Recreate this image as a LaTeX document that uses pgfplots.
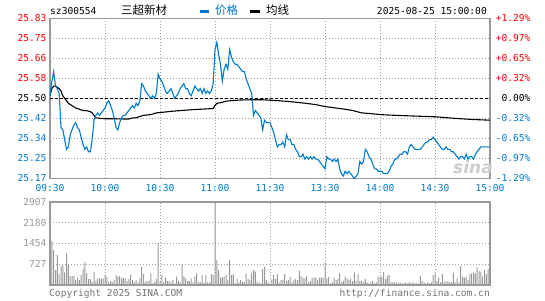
\documentclass[border=0pt]{standalone}
\usepackage{fontspec}
\setmainfont{DejaVu Sans Mono}
\newfontfamily\cjk{Noto Sans CJK SC}
\newfontfamily\logof{DejaVu Sans}
\usepackage{pgfplots}
\pgfplotsset{compat=1.18}

\definecolor{sinablue}{RGB}{0,122,204}
\definecolor{upred}{RGB}{255,0,0}
\definecolor{framec}{RGB}{153,153,153}
\definecolor{gridc}{RGB}{160,160,160}

\pgfplotsset{
  sina/.style={
    scale only axis, width=440pt, anchor=south west,
    xmin=0, xmax=240,
    axis line style={framec, line width=1.2pt},
    tick style={draw=none},
    xmajorgrids, ymajorgrids,
    grid style={gridc, line width=0.9pt, dash pattern=on 1pt off 2pt},
    xtick={0,30,...,240},
    ticklabel style={font=\fontsize{9.6}{11}\selectfont},
    /pgf/number format/assume math mode=true,
  }
}

\begin{document}
\begin{tikzpicture}
\path[use as bounding box] (0,0) rectangle (545pt,300pt);

% price panel
\begin{axis}[sina, at={(50pt,121.7pt)}, height=160pt,
  ymin=25.171, ymax=25.829,
  ytick={25.171,25.253,25.336,25.418,25.5,25.582,25.664,25.747,25.829},
  yticklabels={\textcolor{sinablue}{25.17},\textcolor{sinablue}{25.25},\textcolor{sinablue}{25.34},\textcolor{sinablue}{25.42},25.50,\textcolor{upred}{25.58},\textcolor{upred}{25.66},\textcolor{upred}{25.75},\textcolor{upred}{25.83}},
  xticklabels={09:30,10:00,10:30,11:00,11:30,13:30,14:00,14:30,15:00},
  xticklabel style={text=sinablue, yshift=-2.5pt},
]
\addplot[black, line width=0.8pt, dash pattern=on 3pt off 2pt] coordinates {(0,25.50) (240,25.50)};
% average price
\addplot[black, line width=1.1pt] coordinates {
(0,25.51)(1,25.54)(2,25.55)(3,25.55)(5,25.54)(6,25.53)(7,25.51)(8,25.50)(9,25.49)(10,25.48)
(12,25.47)(14,25.46)(16,25.455)(18,25.45)(20,25.449)(22,25.445)(23,25.44)(24,25.43)(25,25.42)
(27,25.418)(30,25.416)(35,25.416)(40,25.415)(43,25.415)(45,25.419)(47,25.42)(49,25.425)(51,25.43)
(55,25.433)(58,25.44)(62,25.443)(67,25.447)(72,25.45)(77,25.453)(82,25.455)(87,25.457)(89,25.458)
(90,25.47)(91,25.479)(93,25.482)(96,25.488)(100,25.491)(104,25.493)(110,25.494)(116,25.494)
(120,25.492)(125,25.49)(130,25.487)(135,25.483)(140,25.479)(145,25.474)(150,25.466)(155,25.461)
(160,25.456)(165,25.45)(170,25.440)(175,25.437)(180,25.433)(185,25.431)(195,25.428)(210,25.424)
(220,25.418)(230,25.413)(240,25.410)};
% price
\addplot[sinablue, line width=1.1pt] coordinates {
(0,25.51)(1,25.57)(2,25.61)(3,25.55)(4,25.54)(5,25.52)(6,25.38)(7,25.37)(8,25.33)(9,25.29)
(10,25.30)(11,25.35)(12,25.37)(13,25.39)(14,25.40)(15,25.38)(16,25.37)(17,25.34)(18,25.31)(19,25.29)
(20,25.30)(21,25.28)(22,25.28)(23,25.33)(24,25.41)(25,25.43)(26,25.44)(27,25.43)(28,25.44)(29,25.45)
(30,25.46)(31,25.48)(32,25.49)(33,25.47)(34,25.45)(35,25.42)(36,25.38)(37,25.37)(38,25.40)(39,25.42)
(40,25.43)(41,25.43)(42,25.44)(43,25.45)(44,25.46)(45,25.47)(46,25.46)(47,25.48)(48,25.47)(49,25.49)
(50,25.56)(51,25.55)(52,25.53)(53,25.52)(54,25.51)(55,25.50)(56,25.51)(57,25.50)(58,25.52)(59,25.60)
(60,25.58)(61,25.57)(62,25.55)(63,25.53)(64,25.52)(65,25.53)(66,25.54)(67,25.52)(68,25.50)(69,25.51)
(70,25.52)(71,25.54)(72,25.55)(73,25.56)(74,25.54)(75,25.54)(76,25.52)(77,25.51)(78,25.53)(79,25.55)
(80,25.54)(81,25.53)(82,25.54)(83,25.52)(84,25.54)(85,25.52)(86,25.53)(87,25.52)(88,25.53)(89,25.56)
(90,25.70)(91,25.73)(92,25.68)(93,25.64)(94,25.57)(95,25.62)(96,25.64)(97,25.62)(98,25.70)(99,25.67)
(100,25.65)(101,25.64)(102,25.64)(103,25.63)(104,25.62)(105,25.61)(106,25.61)(107,25.58)(108,25.56)(109,25.54)
(110,25.52)(111,25.43)(112,25.45)(113,25.44)(114,25.43)(115,25.42)(116,25.37)(117,25.41)(118,25.40)(119,25.40)
(120,25.40)(121,25.38)(122,25.36)(123,25.33)(124,25.30)(125,25.31)(126,25.31)(127,25.32)(128,25.30)(129,25.35)
(130,25.33)(131,25.33)(132,25.31)(133,25.31)(134,25.29)(135,25.28)(136,25.26)(137,25.26)(138,25.27)(139,25.25)
(140,25.26)(141,25.25)(142,25.26)(143,25.25)(144,25.26)(145,25.25)(146,25.25)(147,25.24)(148,25.23)(149,25.22)
(150,25.21)(151,25.26)(152,25.25)(153,25.25)(154,25.24)(155,25.25)(156,25.24)(157,25.25)(158,25.21)(159,25.19)
(160,25.18)(161,25.20)(162,25.19)(163,25.20)(164,25.19)(165,25.18)(166,25.17)(167,25.18)(168,25.19)(169,25.24)
(170,25.23)(171,25.24)(172,25.29)(173,25.28)(174,25.26)(175,25.25)(176,25.23)(177,25.21)(178,25.21)(179,25.20)
(180,25.20)(181,25.20)(182,25.19)(183,25.19)(184,25.19)(185,25.20)(186,25.22)(187,25.23)(188,25.25)(189,25.25)
(190,25.26)(191,25.27)(192,25.27)(193,25.28)(194,25.28)(195,25.27)(196,25.30)(197,25.31)(198,25.30)(199,25.29)
(200,25.29)(201,25.29)(202,25.29)(203,25.30)(204,25.31)(205,25.32)(206,25.32)(207,25.33)(208,25.33)(209,25.34)
(210,25.33)(211,25.32)(212,25.31)(213,25.30)(214,25.29)(215,25.29)(216,25.30)(217,25.29)(218,25.29)(219,25.28)
(220,25.28)(221,25.27)(222,25.26)(223,25.25)(224,25.26)(225,25.26)(226,25.25)(227,25.27)(228,25.25)(229,25.26)
(230,25.26)(231,25.25)(232,25.27)(233,25.28)(234,25.29)(235,25.30)(236,25.30)(237,25.30)(238,25.30)(239,25.30)
(240,25.30)};
\end{axis}

% right-hand percentage labels
\begin{axis}[sina, at={(50pt,121.7pt)}, height=160pt,
  ymin=25.171, ymax=25.829,
  xmajorgrids=false, ymajorgrids=false, axis line style={draw=none},
  xticklabels={}, yticklabel pos=right,
  ytick={25.171,25.253,25.336,25.418,25.5,25.582,25.664,25.747,25.829},
  yticklabels={\textcolor{sinablue}{-1.29\%},\textcolor{sinablue}{-0.97\%},\textcolor{sinablue}{-0.65\%},\textcolor{sinablue}{-0.32\%},0.00\%,\textcolor{upred}{+0.32\%},\textcolor{upred}{+0.65\%},\textcolor{upred}{+0.97\%},\textcolor{upred}{+1.29\%}},
  yticklabel style={anchor=east, xshift=44pt},
]
\addplot[draw=none] coordinates {(0,25.5)};
\end{axis}

% volume panel
\begin{axis}[sina, at={(50pt,15pt)}, height=83pt,
  ymin=0, ymax=2907,
  ytick={727,1454,2180,2907}, yticklabels={727,1454,2180,2907},
  yticklabel style={text=framec},
  xticklabels={},
]
\addplot[ybar, bar width=1pt, fill=framec, draw=none] coordinates {
(0,523)(1,1535)(2,1221)(3,523)(4,1047)(5,384)(6,674)(7,698)(8,442)(9,1105)
(10,698)(11,314)(12,314)(13,314)(14,174)(15,256)(16,174)(17,349)(18,558)(19,814)
(20,407)(21,209)(22,209)(23,116)(24,442)(25,140)(26,233)(27,233)(28,209)(29,233)
(30,349)(31,291)(32,93)(33,140)(34,93)(35,174)(36,349)(37,291)(38,314)(39,233)
(40,256)(41,233)(42,140)(43,209)(44,372)(45,174)(46,93)(47,174)(48,93)(49,233)
(50,640)(51,384)(52,93)(53,140)(54,151)(55,407)(56,58)(57,93)(58,209)(59,1454)
(60,140)(61,349)(62,93)(63,267)(64,140)(65,140)(66,93)(67,174)(68,58)(69,291)
(70,140)(71,93)(72,733)(73,314)(74,233)(75,140)(76,140)(77,233)(78,93)(79,291)
(80,407)(81,93)(82,93)(83,349)(84,93)(85,349)(86,81)(87,93)(88,384)(89,349)
(90,2907)(91,872)(92,523)(93,267)(94,256)(95,291)(96,349)(97,174)(98,872)(99,349)
(100,372)(101,58)(102,209)(103,93)(104,174)(105,116)(106,93)(107,407)(108,209)(109,174)
(110,407)(111,523)(112,465)(113,116)(114,93)(115,58)(116,558)(117,640)(118,174)(119,93)
(120,58)(121,200)(122,349)(123,209)(124,384)(125,93)(126,174)(127,174)(128,384)(129,140)
(130,174)(131,291)(132,93)(133,174)(134,209)(135,174)(136,488)(137,314)(138,256)(139,233)
(140,314)(141,93)(142,140)(143,233)(144,256)(145,256)(146,174)(147,256)(148,256)(149,256)
(150,791)(151,233)(152,279)(153,58)(154,93)(155,256)(156,174)(157,209)(158,407)(159,93)
(160,140)(161,291)(162,233)(163,174)(164,209)(165,140)(166,442)(167,140)(168,372)(169,140)
(170,140)(171,93)(172,209)(173,93)(174,58)(175,93)(176,140)(177,58)(178,93)(179,291)
(180,291)(181,291)(182,442)(183,209)(184,326)(185,349)(186,93)(187,93)(188,93)(189,93)
(190,58)(191,93)(192,58)(193,58)(194,93)(195,58)(196,93)(197,58)(198,93)(199,58)
(200,58)(201,58)(202,326)(203,140)(204,93)(205,58)(206,93)(207,58)(208,93)(209,349)
(210,384)(211,140)(212,256)(213,93)(214,384)(215,116)(216,140)(217,116)(218,93)(219,93)
(220,430)(221,93)(222,233)(223,93)(224,663)(225,291)(226,256)(227,291)(228,174)(229,372)
(230,407)(231,442)(232,407)(233,616)(234,488)(235,465)(236,300)(237,520)(238,380)(239,560)
(240,420)};
\end{axis}

% header
\node[anchor=base west, inner sep=0pt, font=\fontsize{9.6}{11}\selectfont] at (50pt,285pt) {sz300554};
\node[anchor=base west, inner sep=0pt, font=\cjk\fontsize{11.5}{12}\selectfont] at (121pt,285pt) {三超新材};
\fill[sinablue] (200pt,287pt) rectangle (209pt,290pt);
\node[anchor=base west, inner sep=0pt, text=sinablue, font=\cjk\fontsize{11.5}{12}\selectfont] at (215pt,285pt) {价格};
\fill[black] (250pt,287pt) rectangle (260pt,290pt);
\node[anchor=base west, inner sep=0pt, font=\cjk\fontsize{11.5}{12}\selectfont] at (266pt,285pt) {均线};
\node[anchor=base east, inner sep=0pt, font=\fontsize{9.6}{11}\selectfont] at (487pt,285pt) {2025-08-25 15:00:00};

% watermark
\node[inner sep=0pt, text=black!20, font=\logof\bfseries\itshape\fontsize{17}{17}\selectfont] at (473pt,133pt) {sina};

% footer
\node[anchor=base west, inner sep=0pt, text=black!55, font=\fontsize{9.6}{11}\selectfont] at (49pt,3.5pt) {Copyright 2025 SINA.COM};
\node[anchor=base east, inner sep=0pt, text=black!55, font=\fontsize{9.6}{11}\selectfont] at (490pt,3.5pt) {http://finance.sina.com.cn};
\end{tikzpicture}
\end{document}
